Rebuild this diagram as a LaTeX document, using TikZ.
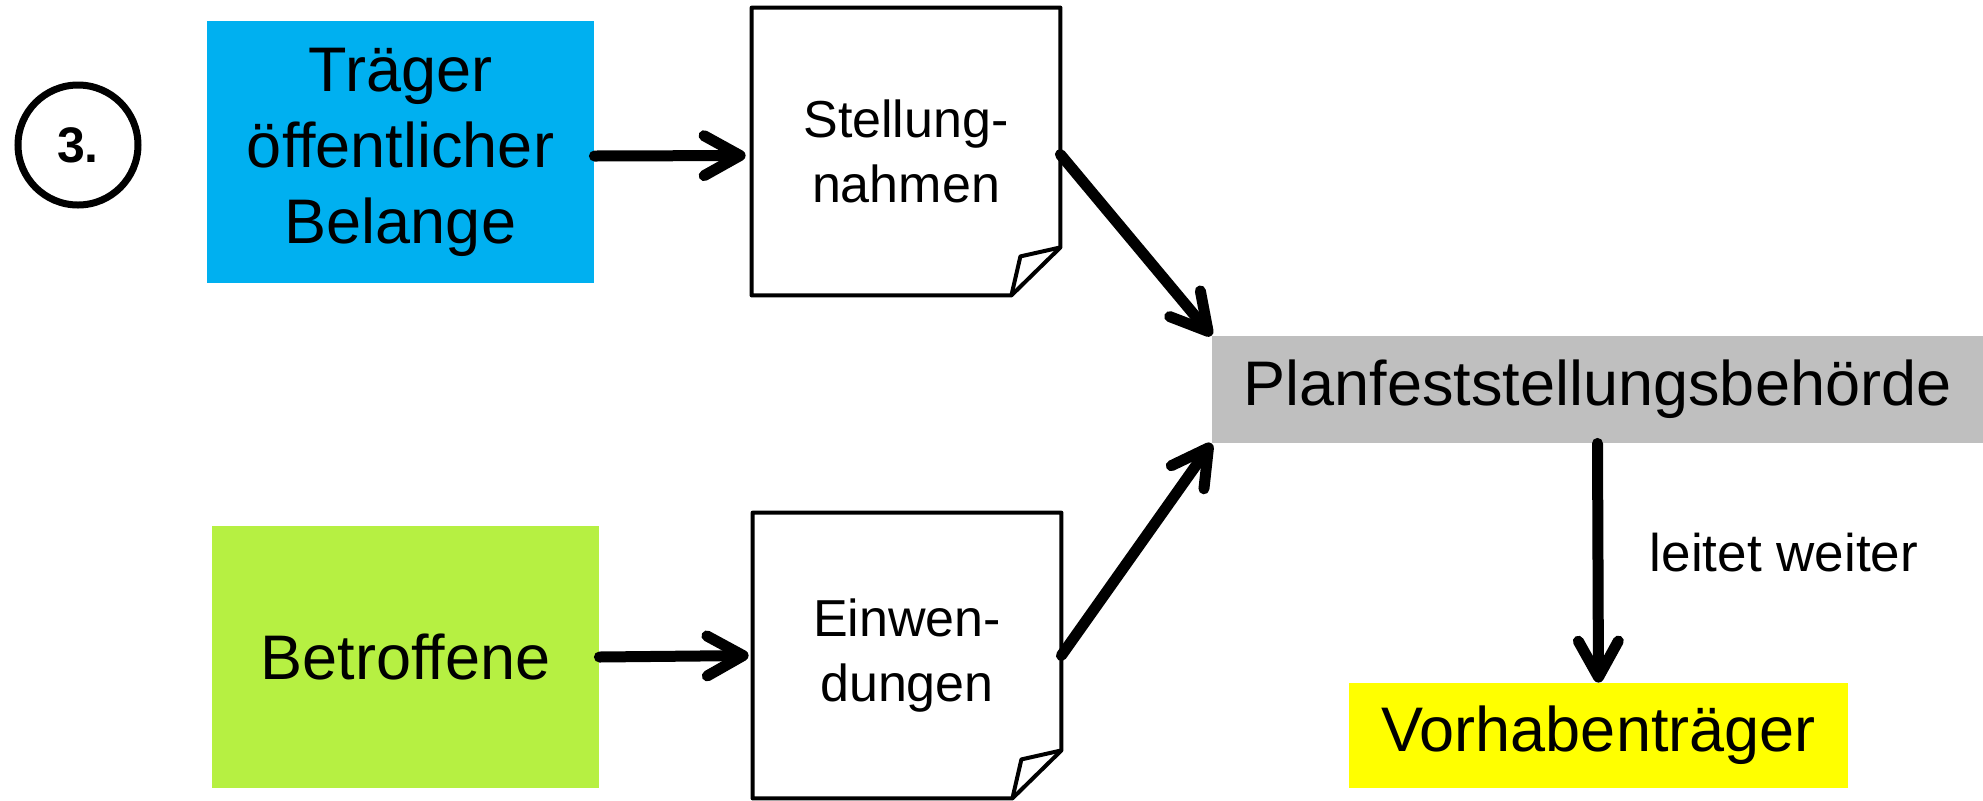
\documentclass[tikz,border=0pt]{standalone}
\usepackage{fontspec}
\setmainfont{Liberation Sans}
\usetikzlibrary{arrows.meta}
\definecolor{cblue}{HTML}{00B0F0}
\definecolor{cgray}{HTML}{BFBFBF}
\definecolor{cgreen}{HTML}{B6F042}
\definecolor{cyel}{HTML}{FFFF00}
\begin{document}
\begin{tikzpicture}[x=0.5pt,y=-0.5pt,
  box/.style={inner sep=0pt, align=center, font=\fontsize{31.5}{38}\selectfont},
  doc/.style={inner sep=0pt, align=center, font=\fontsize{26}{32.5}\selectfont, minimum width=154pt, minimum height=143.5pt},
  conn/.style={line width=5.5pt, line cap=round, -{Straight Barb[length=18pt,width=20pt,line cap=round,line join=round]}},
  docline/.style={line width=2pt, line join=round}]
\useasboundingbox (0,0) rectangle (1983,800);
\node[circle, draw, line width=3.5pt, minimum size=60pt, inner sep=0pt, font=\bfseries\fontsize{25}{30}\selectfont] (c) at (78,145) {3.};
\node[box, fill=cblue, minimum width=193.5pt, minimum height=131pt] (tr) at (400.5,152) {Träger\\öffentlicher\\Belange};
\node[box, fill=cgreen, minimum width=193.5pt, minimum height=131pt] (be) at (405.5,657) {Betroffene};
\node[box, fill=cgray, minimum width=385.5pt, minimum height=53.5pt] (pf) at (1597.5,389.5) {Planfeststellungsbehörde};
\node[box, fill=cyel, minimum width=249.5pt, minimum height=52.5pt] (vt) at (1598.5,735.5) {Vorhabenträger};
\node[doc] (d1) at (906,151.5) {Stellung-\\nahmen};
\node[doc, minimum height=142.5pt] (d2) at (907,655.5) {Einwen-\\dungen};
\foreach \d in {d1,d2}{
  \draw[docline] (\d.north west) -- (\d.north east) -- ([yshift=24pt]\d.south east) -- ([xshift=-24.5pt]\d.south east) -- (\d.south west) -- cycle;
  \draw[docline] ([yshift=24pt]\d.south east) -- ([xshift=-20pt,yshift=19.5pt]\d.south east) -- ([xshift=-24.5pt]\d.south east);
}
\node[font=\fontsize{26.5}{32}\selectfont, inner sep=0pt] (lw) at (1784,553) {leitet weiter};
\draw[conn] ([yshift=-2pt]tr.east) -- ([xshift=-3pt,yshift=-2pt]d1.west);
\draw[conn] (be.east) -- ([xshift=-2pt]d2.west);
\draw[conn] ([yshift=-1.5pt]d1.east) -- (pf.north west);
\draw[conn] (d2.east) -- (pf.south west);
\draw[conn] (pf.south) -- (vt.north);
\end{tikzpicture}
\end{document}
